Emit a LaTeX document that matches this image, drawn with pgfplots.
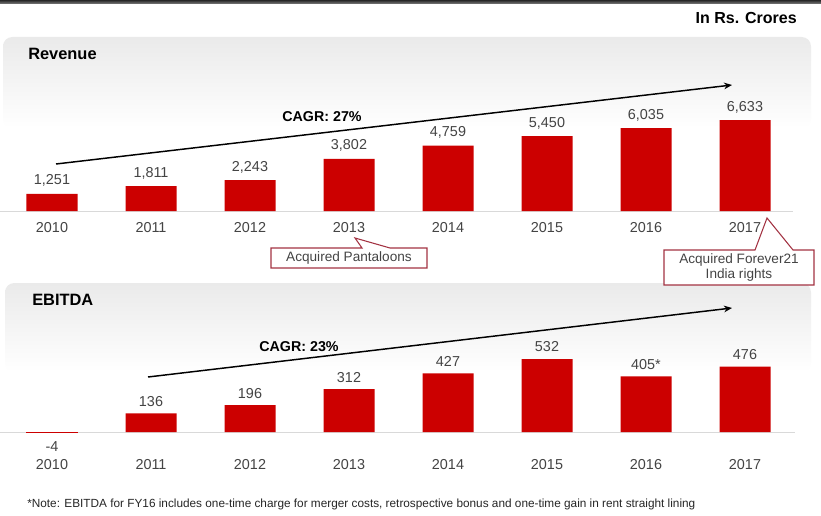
\documentclass[border=0pt]{standalone}
\usepackage{pgfplots}
\pgfplotsset{compat=1.18}
\usepackage{fontspec}
\setmainfont{Liberation Sans}
\usetikzlibrary{arrows.meta}
\definecolor{barred}{HTML}{CC0000}
\definecolor{txtgray}{HTML}{444444}
\definecolor{callred}{HTML}{A33343}
\definecolor{panelgray}{HTML}{EAEAEA}
\newcommand{\valfont}{\fontsize{10.8}{12}\selectfont}
\begin{document}
\begin{tikzpicture}[x=0.75pt,y=0.75pt]
\useasboundingbox (0,0) rectangle (821,515);
\fill[white] (0,0) rectangle (821,515);
% top bar
\shade[top color=black!85, bottom color=black!50] (0,515) rectangle (821,{515-4});
% panels
\shade[top color=panelgray, bottom color=white, rounded corners=7pt] (3,{515-37}) rectangle (811,{515-128});
\shade[top color=panelgray, bottom color=white, rounded corners=7pt] (5,{515-283}) rectangle (811,{515-372});

\node[anchor=east, inner sep=0pt, font=\bfseries\fontsize{12}{14}\selectfont] at (797,{515-18}) {In Rs. Crores};
\node[anchor=west, inner sep=0pt, font=\bfseries\fontsize{12.3}{14}\selectfont] at (28,{515-54}) {Revenue};
\node[anchor=west, inner sep=0pt, font=\bfseries\fontsize{12.3}{14}\selectfont] at (32,{515-300}) {EBITDA};

% Revenue axis
\begin{axis}[
  at={(1.875pt,228pt)}, anchor=south west,
  scale only axis, width=594pt, height=75pt,
  xmin=-0.5, xmax=7.5, ymin=0, ymax=7289,
  axis line style={draw=none}, ytick=\empty,
  xtick={0,1,2,3,4,5,6,7},
  xticklabels={2010,2011,2012,2013,2014,2015,2016,2017},
  major tick length=0pt, xtick style={draw=none},
  xticklabel style={font=\valfont, text=txtgray, anchor=center, yshift=-12.75pt},
  ybar, bar width=38.25pt, bar shift=0pt,
  nodes near coords, point meta=explicit symbolic,
  every node near coord/.append style={font=\valfont, text=txtgray, anchor=center, yshift=9.75pt},
  clip=false,
]
\draw[black!15, line width=0.75pt] (axis cs:-0.53,0) -- (axis cs:7.48,0);
\addplot[fill=barred, draw=none] table[meta=label] {
x y label
0 1251 1,251
1 1811 1,811
2 2243 2,243
3 3802 3,802
4 4759 4,759
5 5450 5,450
6 6035 6,035
7 6633 6,633
};
\end{axis}

% EBITDA axis
\begin{axis}[
  at={(1.875pt,61.22pt)}, anchor=south west,
  scale only axis, width=594pt, height=67.92pt,
  xmin=-0.5, xmax=7.5, ymin=-10, ymax=650,
  axis line style={draw=none}, ytick=\empty,
  xtick={0,1,2,3,4,5,6,7},
  xticklabels={2010,2011,2012,2013,2014,2015,2016,2017},
  major tick length=0pt, xtick style={draw=none},
  xticklabel style={font=\valfont, text=txtgray, anchor=center, yshift=-23.72pt},
  ybar, bar width=38.25pt, bar shift=0pt,
  nodes near coords, point meta=explicit symbolic,
  every node near coord/.append style={font=\valfont, text=txtgray, anchor=center},
  clip=false,
]
\draw[black!15, line width=0.75pt] (axis cs:-0.53,0) -- (axis cs:7.5,0);
\addplot[fill=barred, draw=none, every node near coord/.append style={yshift=9pt}] table[meta=label] {
x y label
1 136 136
2 196 196
3 312 312
4 427 427
5 532 532
6 405 405*
7 476 476
};
\addplot[fill=barred, draw=none, every node near coord/.append style={yshift=-10.8pt}] table[meta=label] {
x y label
0 -4 -4
};
\end{axis}

% CAGR arrows
\draw[line width=1.1pt, -{Stealth[length=6pt,width=5pt]}] (56,{515-164}) -- (732,{515-85});
\node[font=\bfseries\fontsize{10.7}{12}\selectfont] at (322,{515-117}) {CAGR: 27\%};
\draw[line width=1.1pt, -{Stealth[length=6pt,width=5pt]}] (148,{515-377}) -- (732,{515-308});
\node[font=\bfseries\fontsize{10.7}{12}\selectfont] at (299,{515-347}) {CAGR: 23\%};

% callouts
\draw[callred, fill=white, line width=0.8pt, line join=miter]
  (271,{515-248}) -- (362,{515-248}) -- (355,{515-238}) -- (390,{515-248}) -- (427,{515-248})
  -- (427,{515-268}) -- (271,{515-268}) -- cycle;
\node[font=\fontsize{10.2}{12}\selectfont, text=txtgray] at (349,{515-258}) {Acquired Pantaloons};
\draw[callred, fill=white, line width=0.8pt, line join=miter]
  (664,{515-250}) -- (755,{515-250}) -- (767,{515-218}) -- (793,{515-250}) -- (814,{515-250})
  -- (814,{515-285}) -- (664,{515-285}) -- cycle;
\node[font=\fontsize{10.2}{12}\selectfont, text=txtgray] at (739,{515-260}) {Acquired Forever21};
\node[font=\fontsize{10.2}{12}\selectfont, text=txtgray] at (739,{515-275}) {India rights};

% footnote
\node[anchor=west, inner sep=0pt, font=\fontsize{8.85}{10}\selectfont, text=black!85] at (27,{515-504}) {*Note: EBITDA for FY16 includes one-time charge for merger costs, retrospective bonus and one-time gain in rent straight lining};
\end{tikzpicture}
\end{document}
